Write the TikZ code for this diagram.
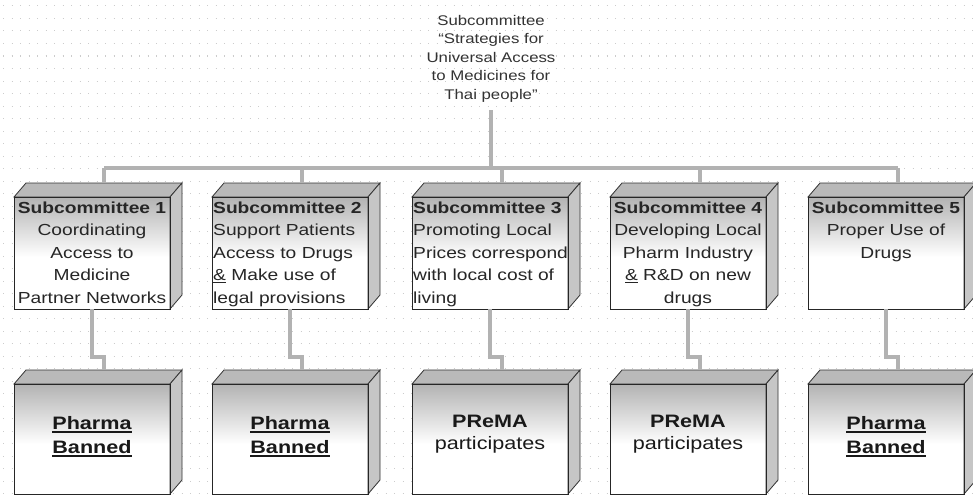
\documentclass[tikz,border=0pt]{standalone}
\usepackage{fontspec}
\setmainfont[FakeStretch=1.2]{Liberation Sans}
\usetikzlibrary{calc}
\newcommand\thickul[1]{\setbox0\hbox{#1}\leavevmode\rlap{\raisebox{-3.4pt}{\rule{\wd0}{1.7pt}}}\box0}
\def\bw{156}\def\dx{12}\def\dy{14}
\tikzset{
  conn/.style={draw=gray!60, line width=4pt},
  edge/.style={draw=black!85, line width=0.8pt},
  facetop/.style={fill=gray!55, draw=black!80, line width=0.8pt},
  faceside/.style={fill=gray!45, draw=black!80, line width=0.8pt},
  subtext/.style={font=\fontsize{16}{22.5}\selectfont, text width=170pt, inner sep=0pt, text=black!85},
  resulttext/.style={font=\fontsize{18}{24}\selectfont\bfseries, align=center, inner sep=0pt, text=black!90},
  titletext/.style={font=\fontsize{14}{18.5}\selectfont, align=center, inner sep=0pt, text=black!80},
}
\newcommand\cubebox[4]{%
  \shade[top color=gray!60, bottom color=white] ({#2},{#3+\dy}) rectangle ({#2+\bw},{#3+\dy+60});
  \fill[white] ({#2},{#3+\dy+60}) rectangle ({#2+\bw},{#4});
  \draw[facetop] ({#2},{#3+\dy}) -- ({#2+\dx},{#3}) -- ({#2+\bw+\dx},{#3}) -- ({#2+\bw},{#3+\dy}) -- cycle;
  \draw[faceside] ({#2+\bw},{#3+\dy}) -- ({#2+\bw+\dx},{#3}) -- ({#2+\bw+\dx},{#4-\dy}) -- ({#2+\bw},{#4}) -- cycle;
  \draw[edge] ({#2},{#3+\dy}) rectangle ({#2+\bw},{#4});
  \coordinate (#1-bt) at ({#2+\dx+\bw/2},{#3});
  \coordinate (#1-fb) at ({#2+\bw/2},{#4});
}
\begin{document}
\begin{tikzpicture}[x=1pt,y=-1pt]
\fill[white] (0,0) rectangle (973,495);
\useasboundingbox (0,0) rectangle (973,495);
% dot grid
\foreach \r in {0,...,39}
  \draw[gray!40, line width=1pt, dash pattern=on 1pt off 7.5pt] (3,{6+\r*12.5}) -- (973,{6+\r*12.5});

% title
\node[titletext, anchor=north] (title) at (491,15) {Subcommittee\\“Strategies for\\Universal Access\\to Medicines for\\Thai people”};
\coordinate (tjoin) at (491,168);
\coordinate (elbow) at (0,357);

% boxes (geometry)
\cubebox{s1}{14}{183}{309}
\cubebox{s2}{212}{183}{309}
\cubebox{s3}{412}{183}{309}
\cubebox{s4}{610}{183}{309}
\cubebox{s5}{808}{183}{309}
\cubebox{p1}{14}{370}{494}
\cubebox{p2}{212}{370}{494}
\cubebox{p3}{412}{370}{494}
\cubebox{p4}{610}{370}{494}
\cubebox{p5}{808}{370}{494}

% connectors
\draw[conn] ([yshift=-8pt]title.south) -- (tjoin);
\draw[conn] (s1-bt |- tjoin) -- (s5-bt |- tjoin);
\foreach \i in {1,...,5}{
  \draw[conn] (s\i-bt |- tjoin) -- (s\i-bt);
  \draw[conn] (s\i-fb) -- (s\i-fb |- elbow) -| (p\i-bt);
}

% subcommittee texts
\node[subtext, align=center, anchor=north] (t1) at (92,201.5) {\textbf{Subcommittee 1}\\Coordinating\\Access to\\Medicine\\Partner Networks};
\node[subtext, align=left, anchor=north west] (t2) at (213,201.5) {\textbf{Subcommittee 2}\\Support Patients\\Access to Drugs\\\underline{\&} Make use of\\legal provisions};
\node[subtext, align=left, anchor=north west] (t3) at (413,201.5) {\textbf{Subcommittee 3}\\Promoting Local\\Prices correspond\\with local cost of\\living};
\node[subtext, align=center, anchor=north] (t4) at (688,201.5) {\textbf{Subcommittee 4}\\Developing Local\\Pharm Industry\\\underline{\&} R\&D on new\\drugs};
\node[subtext, align=center, anchor=north] (t5) at (886,201.5) {\textbf{Subcommittee 5}\\Proper Use of\\Drugs};

% result texts
\node[resulttext, anchor=north] (r1) at (92,416) {\thickul{Pharma}\\\thickul{Banned}};
\node[resulttext, anchor=north] (r2) at (290,416) {\thickul{Pharma}\\\thickul{Banned}};
\node[resulttext, anchor=north, font=\fontsize{18}{22}\selectfont] (r3) at (490,415) {\textbf{PReMA}\\participates};
\node[resulttext, anchor=north, font=\fontsize{18}{22}\selectfont] (r4) at (688,415) {\textbf{PReMA}\\participates};
\node[resulttext, anchor=north] (r5) at (886,416) {\thickul{Pharma}\\\thickul{Banned}};
\end{tikzpicture}
\end{document}
